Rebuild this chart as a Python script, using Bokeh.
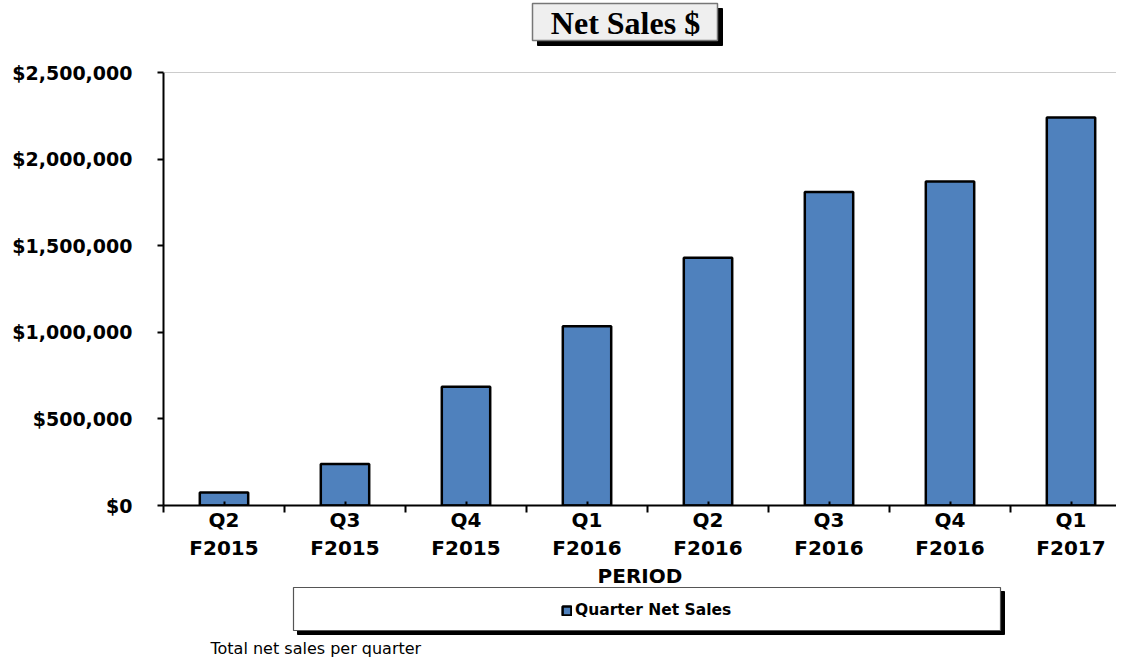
from bokeh.plotting import figure
from bokeh.models import (Range1d, FixedTicker, NumeralTickFormatter, Span,
                          Legend, LegendItem, ColumnDataSource)
from bokeh.layouts import column
from bokeh.core.properties import value
from bokeh.embed import file_html
from bokeh.resources import INLINE

# ---- data ----
periods = ["Q2\nF2015", "Q3\nF2015", "Q4\nF2015", "Q1\nF2016",
           "Q2\nF2016", "Q3\nF2016", "Q4\nF2016", "Q1\nF2017"]
net_sales = [75000, 240000, 685000, 1035000, 1430000, 1810000, 1870000, 2240000]
y_ticks = [0, 500000, 1000000, 1500000, 2000000, 2500000]
title_text = "Net Sales $"
legend_label = "Quarter Net Sales"
x_title = "PERIOD"
footnote = "Total net sales per quarter"

centers = [i + 0.5 for i in range(len(periods))]
bounds = list(range(len(periods) + 1))
src = ColumnDataSource(dict(x=centers, top=net_sales, label=periods))

FONT = "DejaVu Sans"
W = 1116
LEFT = 163
BAR_FILL = "#4F81BD"


def blank(h, y0):
    # strip whose frame is aligned with the main chart frame; data units = page pixels
    f = figure(width=W, height=h, output_backend="svg", toolbar_location=None,
               x_range=Range1d(LEFT, W), y_range=Range1d(y0 + h, y0),
               min_border_left=LEFT, min_border_right=0, min_border_top=0, min_border_bottom=0,
               x_axis_type=None, y_axis_type=None)
    f.outline_line_color = None
    f.background_fill_alpha = 0
    f.border_fill_alpha = 0
    f.xgrid.visible = False
    f.ygrid.visible = False
    return f


# ---- title strip (page y 0..60) ----
top = blank(60, 0)
top.quad(left=[537], right=[722], top=[8], bottom=[45], fill_color="black", line_color="black")
top.quad(left=[532], right=[717], top=[3], bottom=[40], fill_color="#efefef",
         line_color="#777777", line_width=1.5)
top.text(x=[625], y=[22], text=[title_text], text_align="center", text_baseline="middle",
         text_font=value("Liberation Serif"), text_font_style="bold", text_font_size="32px",
         text_color="black")

# ---- main chart (page y 60..605, frame 72..505) ----
p = figure(width=W, height=545, output_backend="svg", toolbar_location=None,
           x_range=Range1d(0, 7.876), y_range=Range1d(0, 2500000),
           min_border_left=LEFT, min_border_right=0, min_border_top=12, min_border_bottom=100)
p.outline_line_color = None
p.xgrid.grid_line_color = None
p.ygrid.grid_line_color = None

r = p.vbar(x="x", top="top", width=0.4, bottom=0, source=src,
           fill_color=BAR_FILL, line_color="black", line_width=2.5)

p.add_layout(Span(location=2500000, dimension="width", line_color="#9a9a9a", line_width=1.2))

xa = p.xaxis[0]
xa.ticker = FixedTicker(ticks=centers, minor_ticks=bounds)
xa.major_label_overrides = {c: lab for c, lab in zip(centers, periods)}
xa.major_tick_in = 4
xa.major_tick_out = 0
xa.minor_tick_in = 0
xa.minor_tick_out = 7
xa.minor_tick_line_color = "black"
xa.minor_tick_line_width = 2
xa.major_tick_line_width = 2
xa.axis_line_width = 2
xa.axis_line_color = "black"
xa.major_label_text_font = FONT
xa.major_label_text_font_style = "bold"
xa.major_label_text_font_size = "20px"
xa.major_label_text_color = "black"
xa.major_label_standoff = -5
xa.axis_label = x_title
xa.axis_label_text_font = FONT
xa.axis_label_text_font_style = "bold"
xa.axis_label_text_font_size = "20px"
xa.axis_label_text_color = "black"
xa.axis_label_standoff = 1

ya = p.yaxis[0]
ya.ticker = FixedTicker(ticks=y_ticks, minor_ticks=[])
ya.formatter = NumeralTickFormatter(format="$0,0")
ya.major_tick_in = 0
ya.major_tick_out = 6
ya.major_tick_line_width = 2
ya.axis_line_width = 2
ya.axis_line_color = "black"
ya.major_label_text_font = FONT
ya.major_label_text_font_style = "bold"
ya.major_label_text_font_size = "19px"
ya.major_label_text_color = "black"
ya.major_label_standoff = 25

# ---- legend strip (page y 585..659, overlaps the empty bottom of the chart) ----
bot = blank(74, 585)
bot.margin = (-20, 0, 0, 0)
bot.quad(left=[297], right=[1004], top=[591], bottom=[634], fill_color="black", line_color="black")
bot.quad(left=[293], right=[1000], top=[587], bottom=[630], fill_color="white",
         line_color="#555555", line_width=1.2)
# legend-only renderer carrying the series style (its single row is empty, so it draws nothing)
leg_src = ColumnDataSource(dict(x=[float("nan")], top=[float("nan")]))
r_leg = bot.vbar(x="x", top="top", width=0.4, source=leg_src,
                 fill_color=BAR_FILL, line_color="black", line_width=2.5)
legend = Legend(items=[LegendItem(label=legend_label, renderers=[r_leg])], location=(398, 40),
                border_line_color=None, background_fill_alpha=0, padding=0, margin=0,
                glyph_width=11, glyph_height=11, label_height=15, label_standoff=3,
                label_text_font=FONT, label_text_font_style="bold", label_text_font_size="15.5px",
                label_text_color="black")
bot.add_layout(legend)
bot.text(x=[210], y=[648], text=[footnote], text_align="left", text_baseline="middle",
         text_font=value(FONT), text_font_size="16px", text_color="black")

layout = column(top, p, bot, spacing=0)
open("out.html", "w").write(file_html(layout, INLINE))
